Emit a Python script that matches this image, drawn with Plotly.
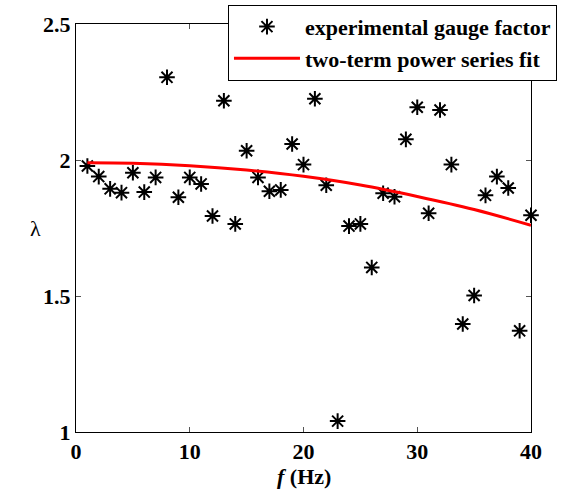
import plotly.graph_objects as go

freq = list(range(1, 41))
gauge = [1.978, 1.939, 1.894, 1.880, 1.953, 1.882, 1.936, 2.304, 1.863, 1.936,
         1.912, 1.794, 2.218, 1.765, 2.034, 1.936, 1.885, 1.890, 2.059, 1.983,
         2.225, 1.907, 1.040, 1.757, 1.765, 1.605, 1.878, 1.865, 2.076, 2.194,
         1.804, 2.184, 1.983, 1.397, 1.502, 1.870, 1.939, 1.897, 1.372, 1.797]

fit_x = [1, 5, 10, 15, 20, 25, 30, 35, 40]
fit_y = [1.990, 1.988, 1.979, 1.963, 1.940, 1.908, 1.866, 1.818, 1.760]

x_ticks = [0, 10, 20, 30, 40]
y_ticks = [1, 1.5, 2, 2.5]

font_main = "Liberation Serif"

fig = go.Figure()
fig.add_trace(go.Scatter(
    x=freq, y=gauge, mode="markers", name="<b>experimental gauge factor</b>",
    marker=dict(symbol="asterisk-open", size=13, color="black",
                line=dict(color="black", width=2)),
    cliponaxis=False,
))
fig.add_trace(go.Scatter(
    x=fit_x, y=fit_y, mode="lines", name="<b>two-term power series fit</b>",
    line=dict(color="#ff0000", width=3, shape="spline"),
))

axis_common = dict(
    showgrid=False, zeroline=False, showline=True, linecolor="black",
    linewidth=1, mirror="ticks", ticks="inside", ticklen=5, tickcolor="#555",
    tickfont=dict(family=font_main, size=22, color="black"),
    automargin=False,
)

fig.update_layout(
    width=577, height=494,
    margin=dict(l=76, r=46, t=24, b=62, autoexpand=False),
    plot_bgcolor="white", paper_bgcolor="white",
    font=dict(family=font_main),
    xaxis=dict(range=[0, 40], tickvals=x_ticks,
               ticktext=[f"<b>{v}</b>" for v in x_ticks],
               **axis_common),
    yaxis=dict(range=[1, 2.5], tickvals=y_ticks,
               ticktext=[f"<b>{v:g}</b>" for v in y_ticks],
               **axis_common),
    legend=dict(x=0.334, xanchor="left", y=1.047, yanchor="top",
                bgcolor="white", bordercolor="black", borderwidth=1,
                font=dict(family=font_main, size=22, color="black"),
                itemwidth=66),
    showlegend=True,
    annotations=[
        dict(text="λ", xref="paper", yref="paper", x=-0.09, y=0.5,
             showarrow=False, xanchor="center", yanchor="middle",
             font=dict(family=font_main, size=22, color="black")),
        dict(text="<b><i>f</i> (Hz)</b>", xref="paper", yref="paper",
             x=0.50, y=-0.11, showarrow=False, xanchor="center", yanchor="middle",
             font=dict(family=font_main, size=22, color="black")),
    ],
)

fig.write_html("out.html")
